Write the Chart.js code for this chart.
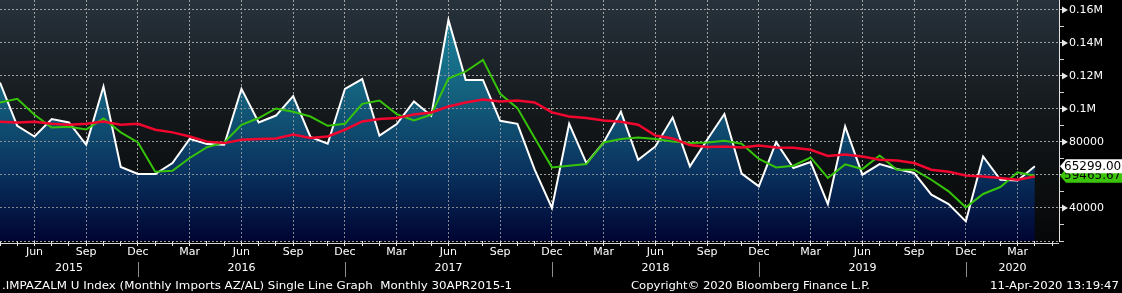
<!DOCTYPE html>
<html>
<head>
<meta charset="utf-8">
<script src="https://cdn.jsdelivr.net/npm/chart.js@4.4.0/dist/chart.umd.min.js"></script>
<style>
  html, body { margin: 0; padding: 0; background: #000; }
</style>
</head>
<body>
<canvas id="myChart" width="1122" height="293"></canvas>
<script>
// monthly points, Apr 2015 .. Apr 2020
const firstYear = 2015;
const firstMonth = 3; // April
const monthNames = ["Jan", "Feb", "Mar", "Apr", "May", "Jun", "Jul", "Aug", "Sep", "Oct", "Nov", "Dec"];
const quarterMonths = ["Mar", "Jun", "Sep", "Dec"];
const years = ["2015", "2016", "2017", "2018", "2019", "2020"];

const imports = [
  116000, 89800, 83300, 93900, 91800, 78300, 113600, 64800, 60600, 60600,
  67200, 81900, 78700, 78300, 112200, 91800, 96000, 107800, 83000, 78900,
  112200, 118100, 83800, 90800, 104500, 95900, 153900, 117600, 117600, 92800,
  91000, 63200, 40000, 91000, 67200, 79700, 98300, 69200, 77300, 94800,
  65200, 81300, 96900, 60800, 53100, 79900, 64200, 67800, 42300, 89400,
  60200, 66600, 63600, 61200, 48100, 42400, 31900, 71200, 57100, 56600,
  65299,
];
const avg3 = [
  103900, 106100, 96500, 88800, 89200, 87600, 94200, 85800, 79700, 62000,
  62600, 70300, 76800, 79700, 90400, 94500, 100300, 98300, 95400, 89800,
  91000, 103100, 105100, 96900, 93000, 96500, 118400, 122700, 129700, 109200,
  100500, 82400, 64600, 65600, 66600, 79700, 81800, 82700, 81800, 80300,
  79300, 79700, 80700, 78900, 69700, 64600, 65600, 70600, 58200, 66400,
  63600, 71800, 63200, 63200, 57100, 50100, 40400, 48500, 52700, 61600,
  59465.67,
];
const avg12 = [
  92200, 91800, 92200, 91000, 90400, 91000, 92400, 90400, 91000, 87400,
  85800, 83300, 80200, 79300, 81300, 81800, 82100, 84500, 82400, 83300,
  87400, 92400, 93900, 94500, 96600, 97900, 101500, 103900, 105700, 104500,
  105100, 103900, 97900, 95400, 94500, 93000, 92300, 90400, 83900, 82100,
  78100, 76900, 77300, 76700, 77900, 76700, 76500, 75300, 71500, 72400,
  71200, 69200, 68800, 67200, 63200, 62000, 59700, 59100, 58200, 57100,
  59100,
];
const yTicks = [20000, 30000, 40000, 50000, 60000, 70000, 80000, 90000, 100000, 110000, 120000, 130000, 140000, 150000, 160000];
const yLabels = { 40000: "40000", 80000: "80000", 100000: "0.1M", 120000: "0.12M", 140000: "0.14M", 160000: "0.16M" };

const footLeft = ".IMPAZALM U Index (Monthly Imports AZ/AL) Single Line Graph  Monthly 30APR2015-1";
const footMid = "Copyright\u00a9 2020 Bloomberg Finance L.P.";
const footRight = "11-Apr-2020 13:19:47";

const months = [];
for (let i = 0; i < imports.length; i++) {
  const m = (firstMonth + i) % 12;
  months.push(monthNames[m] + " " + (firstYear + Math.floor((firstMonth + i) / 12)));
}
const monthOf = (v) => monthNames[(firstMonth + v) % 12];
const isQuarter = (v) => Number.isInteger(v) && quarterMonths.includes(monthOf(v));

const FONT = "DejaVu Sans";
Chart.defaults.font.family = FONT;
Chart.defaults.font.size = 11;
Chart.defaults.color = "#ffffff";

const toPoints = (arr) => arr.map((v, i) => ({ x: i, y: v }));

const background = {
  id: "background",
  beforeDraw(chart) {
    const { ctx, chartArea: a } = chart;
    ctx.save();
    ctx.fillStyle = "#000";
    ctx.fillRect(0, 0, chart.width, chart.height);
    const g = ctx.createLinearGradient(0, a.top, 0, a.bottom);
    g.addColorStop(0, "#27323c");
    g.addColorStop(0.5, "#131719");
    g.addColorStop(1, "#060708");
    ctx.fillStyle = g;
    ctx.fillRect(a.left, a.top, a.right - a.left, a.bottom - a.top);
    ctx.restore();
  },
};

function fitText(ctx, text, x, y, width, align) {
  const w = ctx.measureText(text).width;
  ctx.save();
  ctx.translate(x, y);
  ctx.scale(width / w, 1);
  ctx.textAlign = align;
  ctx.fillText(text, 0, 0);
  ctx.restore();
}

function tag(ctx, py, text, fill) {
  const h = 14;
  ctx.beginPath();
  ctx.moveTo(1060, py);
  ctx.lineTo(1066, py - h / 2);
  ctx.lineTo(1122, py - h / 2);
  ctx.lineTo(1122, py + h / 2);
  ctx.lineTo(1066, py + h / 2);
  ctx.closePath();
  ctx.fillStyle = fill;
  ctx.fill();
  ctx.fillStyle = "#000";
  ctx.font = "12px " + FONT;
  ctx.textAlign = "left";
  ctx.textBaseline = "middle";
  ctx.fillText(text, 1064, py + 0.5);
}

const overlay = {
  id: "overlay",
  // grid again, on top of the area fill but under the lines
  beforeDatasetsDraw(chart) {
    chart.scales.x.drawGrid(chart.chartArea);
    chart.scales.y.drawGrid(chart.chartArea);
  },
  afterDraw(chart) {
    const { ctx, chartArea: a, scales: { x, y } } = chart;
    ctx.save();

    // base line under the plot
    ctx.strokeStyle = "#d8d8d8";
    ctx.lineWidth = 1;
    ctx.beginPath();
    ctx.moveTo(a.left, a.bottom + 2.5);
    ctx.lineTo(a.right, a.bottom + 2.5);
    ctx.stroke();

    // year separators + year labels
    const decs = [];
    months.forEach((m, i) => { if (m.startsWith("Dec")) decs.push(x.getPixelForValue(i)); });
    ctx.strokeStyle = "#8c8c8c";
    decs.forEach((px) => {
      ctx.beginPath();
      ctx.moveTo(Math.round(px) + 0.5, 262);
      ctx.lineTo(Math.round(px) + 0.5, 277);
      ctx.stroke();
    });
    const edges = [a.left, ...decs, a.right];
    ctx.fillStyle = "#fff";
    ctx.font = "11px " + FONT;
    ctx.textAlign = "center";
    ctx.textBaseline = "middle";
    years.forEach((yr, k) => ctx.fillText(yr, (edges[k] + edges[k + 1]) / 2, 268));

    // arrows at labelled y ticks
    ctx.fillStyle = "#e8e8e8";
    Object.keys(yLabels).forEach((v) => {
      const py = y.getPixelForValue(+v);
      ctx.beginPath();
      ctx.moveTo(1062, py - 3.5);
      ctx.lineTo(1068, py);
      ctx.lineTo(1062, py + 3.5);
      ctx.closePath();
      ctx.fill();
    });

    // last value tags
    const lastAvg = avg3[avg3.length - 1];
    const lastImp = imports[imports.length - 1];
    tag(ctx, y.getPixelForValue(lastAvg), lastAvg.toFixed(2), "#3cc40a");
    tag(ctx, y.getPixelForValue(lastImp), lastImp.toFixed(2), "#ffffff");

    // footer
    ctx.fillStyle = "#fff";
    ctx.font = "11px " + FONT;
    ctx.textBaseline = "middle";
    fitText(ctx, footLeft, 2, 286, 510, "left");
    fitText(ctx, footMid, 631, 286, 239, "left");
    fitText(ctx, footRight, 1119, 286, 129, "right");
    ctx.restore();
  },
};

const ctx = document.getElementById("myChart").getContext("2d");

const myChart = new Chart(ctx, {
  type: "line",
  data: {
    datasets: [
      {
        label: "12M avg",
        data: toPoints(avg12),
        borderColor: "#f0062e",
        borderWidth: 2.5,
        pointRadius: 0,
        fill: false,
      },
      {
        label: "3M avg",
        data: toPoints(avg3),
        borderColor: "#36c40a",
        borderWidth: 2,
        pointRadius: 0,
        fill: false,
      },
      {
        label: "Imports",
        data: toPoints(imports),
        borderColor: "#ffffff",
        borderWidth: 2,
        pointRadius: 0,
        fill: "start",
        backgroundColor(c) {
          const a = c.chart.chartArea;
          if (!a) return "rgba(0,0,0,0)";
          const g = c.chart.ctx.createLinearGradient(0, a.top, 0, a.bottom);
          g.addColorStop(0, "#1e8ba2");
          g.addColorStop(0.4, "#135f7c");
          g.addColorStop(0.7, "#0a3460");
          g.addColorStop(1, "#000432");
          return g;
        },
      },
    ],
  },
  options: {
    responsive: false,
    animation: false,
    layout: { padding: 0, autoPadding: false },
    plugins: {
      legend: { display: false },
      tooltip: { enabled: false },
      filler: { drawTime: "beforeDatasetsDraw" },
    },
    scales: {
      x: {
        type: "linear",
        min: 0,
        max: 61.4,
        afterFit(s) { s.height = 52; s.paddingLeft = 0; s.paddingRight = 0; },
        border: { display: false, dash: [2, 2] },
        grid: {
          color: (c) => (c.tick && isQuarter(c.tick.value) ? "rgba(165,165,165,0.8)" : "rgba(0,0,0,0)"),
          tickColor: "#e8e8e8",
          tickLength: 5,
        },
        ticks: {
          stepSize: 1,
          autoSkip: false,
          includeBounds: false,
          maxRotation: 0,
          padding: 0,
          color: "#fff",
          callback: (v) => (isQuarter(v) ? monthOf(v) : ""),
        },
      },
      y: {
        type: "linear",
        position: "right",
        min: 20000,
        max: 166000,
        afterBuildTicks(s) { s.ticks = yTicks.map((v) => ({ value: v })); },
        afterFit(s) { s.width = 63; s.paddingTop = 0; s.paddingBottom = 0; },
        border: { display: true, color: "#e0e0e0", width: 1, dash: [2, 2] },
        grid: {
          color: (c) => (c.tick && c.tick.value % 20000 === 0 ? "rgba(165,165,165,0.8)" : "rgba(0,0,0,0)"),
          tickColor: "#d0d0d0",
          tickLength: 5,
        },
        ticks: {
          autoSkip: false,
          padding: 5,
          color: "#fff",
          callback: (v) => yLabels[v] || "",
        },
      },
    },
  },
  plugins: [background, overlay],
});
</script>
</body>
</html>
